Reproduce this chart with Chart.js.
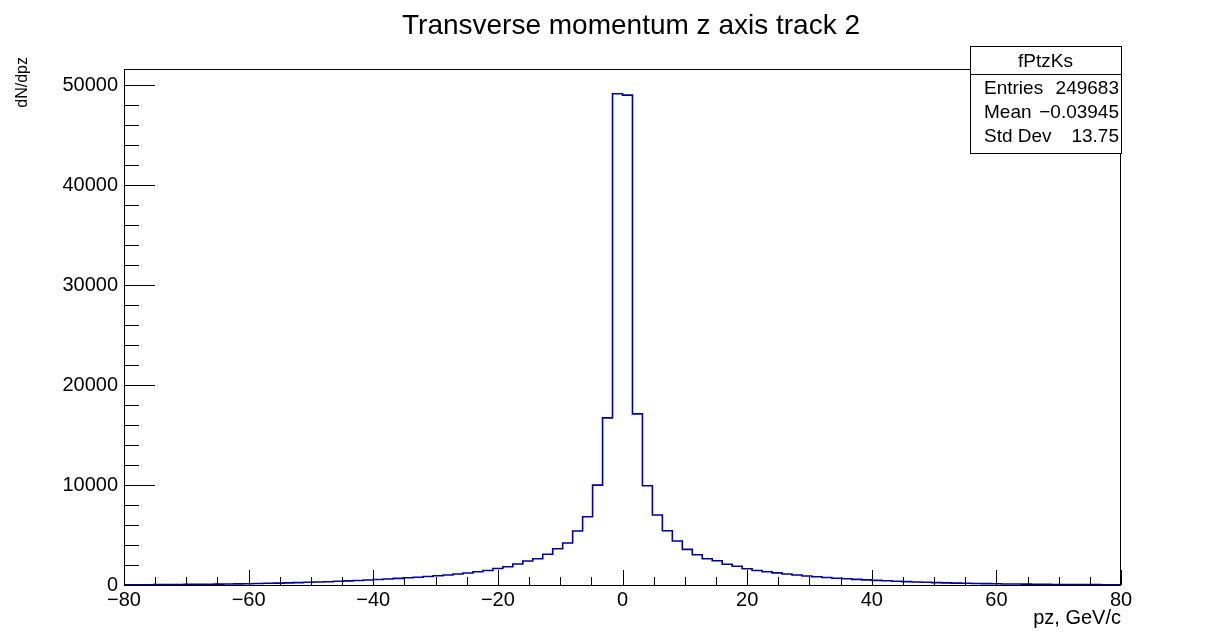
<!DOCTYPE html>
<html>
<head>
<meta charset="utf-8">
<script src="https://cdn.jsdelivr.net/npm/chart.js@4"></script>
<style>
  html, body { margin: 0; padding: 0; background: #fff; }
  #wrap { width: 1227px; height: 634px; }
</style>
</head>
<body>
<div id="wrap"><canvas id="hist" width="1227" height="634"></canvas></div>
<script>
// histogram binning: 100 bins from -80 to 80
const xMin = -80;
const xMax = 80;
const nBins = 100;

// bin contents (bin 0 = [-80, -78.4])
const counts = [
  20, 25, 30, 40, 45, 50, 60, 70, 80, 90,
  100, 115, 130, 150, 170, 190, 210, 240, 270, 300,
  330, 370, 410, 450, 500, 550, 600, 660, 720, 780,
  850, 920, 1000, 1100, 1200, 1330, 1450, 1650, 1830, 2100,
  2400, 2630, 3070, 3630, 4200, 5400, 6830, 10000, 16730, 49170,
  49030, 17130, 9930, 7000, 5430, 4400, 3570, 3030, 2630, 2430,
  2070, 1870, 1630, 1450, 1330, 1210, 1100, 1000, 900, 820,
  750, 680, 620, 560, 510, 460, 420, 380, 340, 300,
  270, 240, 215, 190, 170, 150, 135, 120, 105, 95,
  85, 75, 65, 55, 50, 45, 40, 35, 30, 25
];

const xMajorTicks = [-80, -60, -40, -20, 0, 20, 40, 60, 80];
const yMajorTicks = [0, 10000, 20000, 30000, 40000, 50000];
const yMax = 51640;

const statsName = 'fPtzKs';
const statsLabels = ['Entries', 'Mean', 'Std Dev'];
const statsValues = ['249683', '\u22120.03945', '13.75'];

const FONT = '"Liberation Sans", Arial, Helvetica, sans-serif';

// step points: left edge of every bin, plus the right edge of the last one
const binWidth = (xMax - xMin) / nBins;
const points = counts.map((c, i) => ({ x: xMin + i * binWidth, y: c }));
points.push({ x: xMax, y: counts[counts.length - 1] });

const rootFrame = {
  id: 'rootFrame',
  afterDraw(chart) {
    const { ctx, chartArea: a, scales } = chart;
    const xs = scales.x, ys = scales.y;
    ctx.save();

    // frame
    ctx.strokeStyle = '#000';
    ctx.lineWidth = 1;
    ctx.strokeRect(a.left + 0.5, a.top + 0.5, a.right - a.left - 1, a.bottom - a.top);

    // x ticks, inside the frame
    ctx.beginPath();
    for (let v = xMin; v <= xMax; v += 5) {
      const px = Math.round(xs.getPixelForValue(v)) + 0.5;
      const len = v % 20 === 0 ? 15 : 8;
      ctx.moveTo(px, a.bottom);
      ctx.lineTo(px, a.bottom - len);
    }
    // y ticks
    for (let v = 0; v <= yMax; v += 2000) {
      const py = Math.round(ys.getPixelForValue(v)) + 0.5;
      const len = v % 10000 === 0 ? 31 : 15;
      ctx.moveTo(a.left, py);
      ctx.lineTo(a.left + len, py);
    }
    ctx.stroke();

    // title
    ctx.fillStyle = '#000';
    ctx.font = '28px ' + FONT;
    ctx.textAlign = 'center';
    ctx.textBaseline = 'alphabetic';
    ctx.fillText('Transverse momentum z axis track 2', 631, 34);

    // axis titles
    ctx.font = '20px ' + FONT;
    ctx.textAlign = 'right';
    ctx.fillText('pz, GeV/c', a.right, 624);
    ctx.save();
    ctx.font = '16px ' + FONT;
    ctx.translate(27, 57);
    ctx.rotate(-Math.PI / 2);
    ctx.textAlign = 'right';
    ctx.fillText('dN/dpz', 0, 0);
    ctx.restore();

    // stats box
    const bx = 970, by = 46, bw = 151, bh = 107;
    ctx.fillStyle = '#fff';
    ctx.fillRect(bx, by, bw, bh);
    ctx.strokeStyle = '#000';
    ctx.strokeRect(bx + 0.5, by + 0.5, bw, bh);
    ctx.beginPath();
    ctx.moveTo(bx, by + 28.5);
    ctx.lineTo(bx + bw, by + 28.5);
    ctx.stroke();
    ctx.fillStyle = '#000';
    ctx.font = '19px ' + FONT;
    ctx.textAlign = 'center';
    ctx.fillText(statsName, bx + bw / 2, by + 21);
    statsLabels.forEach((lab, i) => {
      const base = by + 48 + i * 24;
      ctx.textAlign = 'left';
      ctx.fillText(lab, bx + 14, base);
      ctx.textAlign = 'right';
      ctx.fillText(statsValues[i], bx + bw - 2, base);
    });

    ctx.restore();
  }
};

new Chart(document.getElementById('hist'), {
  type: 'line',
  data: {
    datasets: [{
      data: points,
      borderColor: '#000099',
      borderWidth: 1.6,
      stepped: 'before',
      pointRadius: 0,
      fill: false,
    }],
  },
  options: {
    responsive: false,
    animation: false,
    parsing: false,
    layout: { padding: { top: 69, right: 106, left: 0, bottom: 0 } },
    plugins: {
      legend: { display: false },
      tooltip: { enabled: false },
    },
    scales: {
      x: {
        type: 'linear',
        min: xMin,
        max: xMax,
        afterFit(scale) { scale.height = 49; },
        afterBuildTicks(scale) { scale.ticks = xMajorTicks.map(v => ({ value: v })); },
        ticks: {
          color: '#000',
          font: { family: FONT, size: 20 },
          padding: 3,
          maxRotation: 0,
          callback: v => String(v).replace('-', '\u2212'),
        },
        grid: { display: false, drawTicks: false },
        border: { display: false },
      },
      y: {
        min: 0,
        max: yMax,
        afterFit(scale) { scale.width = 124; },
        afterBuildTicks(scale) { scale.ticks = yMajorTicks.map(v => ({ value: v })); },
        ticks: {
          color: '#000',
          font: { family: FONT, size: 20 },
          padding: 6,
          callback: v => String(v),
        },
        grid: { display: false, drawTicks: false },
        border: { display: false },
      },
    },
  },
  plugins: [rootFrame],
});
</script>
</body>
</html>
